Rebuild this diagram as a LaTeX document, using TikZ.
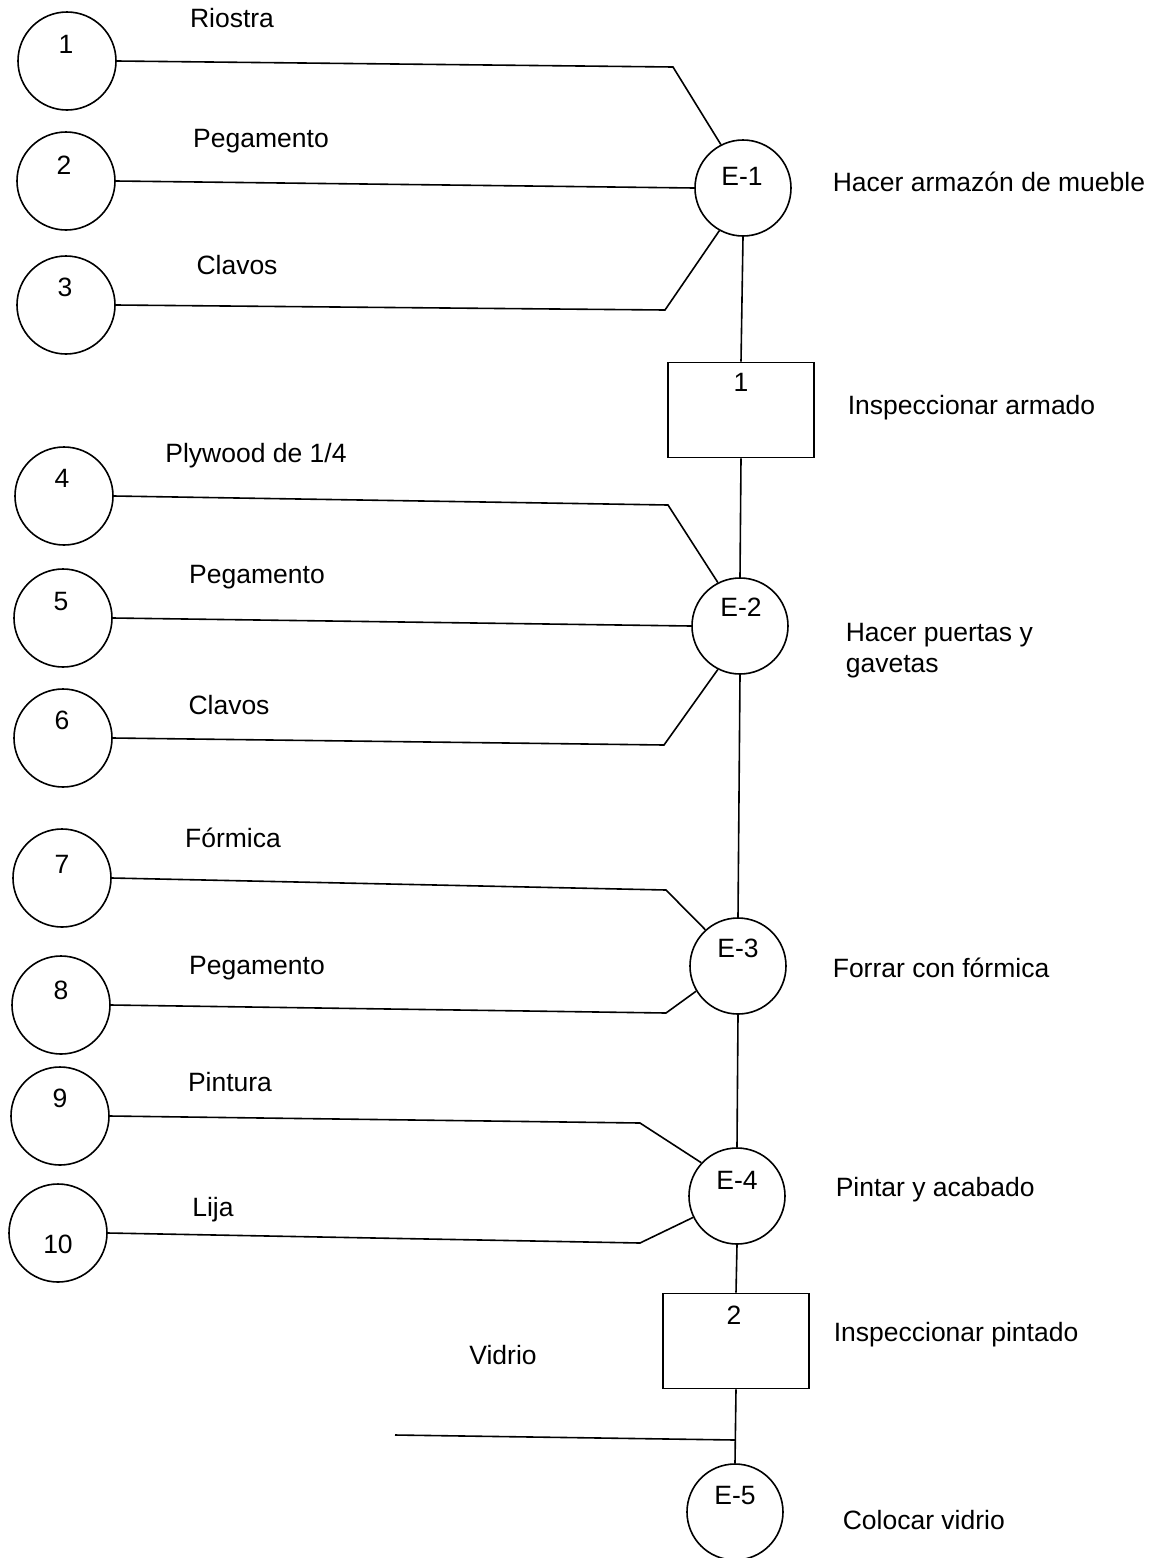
\documentclass[tikz,border=0pt]{standalone}
\usepackage{fontspec}
\setmainfont{Liberation Sans}
\begin{document}
\begin{tikzpicture}[x=1pt,y=-1pt,
  line width=1.6pt,
  every node/.style={font=\fontsize{26.5}{31}\selectfont, inner sep=0pt},
  mat/.style={circle, draw, minimum size=98pt},
  ops/.style={circle, draw, minimum size=96pt},
  insp/.style={rectangle, draw, minimum width=146pt, minimum height=95pt},
  num/.style={anchor=center},
  desc/.style={anchor=west, align=left}]
\useasboundingbox (0,0) rectangle (1167,1558);

% material circles
\node[mat] (c1) at (67,61) {};
\node[mat] (c2) at (66,181) {};
\node[mat] (c3) at (66,305) {};
\node[mat] (c4) at (64,496) {};
\node[mat] (c5) at (63,618) {};
\node[mat] (c6) at (63,738) {};
\node[mat] (c7) at (62,878) {};
\node[mat] (c8) at (61,1005) {};
\node[mat] (c9) at (60,1116) {};
\node[mat] (c10) at (58,1233) {};
\node[num] (n1) at (66,44) {1};
\node[num] (n2) at (64,165) {2};
\node[num] (n3) at (65,287) {3};
\node[num] (n4) at (62,478) {4};
\node[num] (n5) at (61,602) {5};
\node[num] (n6) at (62,720) {6};
\node[num] (n7) at (62,864) {7};
\node[num] (n8) at (61,990) {8};
\node[num] (n9) at (60,1098) {9};
\node[num] (n10) at (58,1244) {10};

% material names
\node (m1) at (232,18) {Riostra};
\node (m2) at (261,141) {Pegamento};
\node (m3) at (237,265) {Clavos};
\node (m4) at (256,456) {Plywood de 1/4};
\node (m5) at (257,577) {Pegamento};
\node (m6) at (229,705) {Clavos};
\node (m7) at (233,838) {Fórmica};
\node (m8) at (257,968) {Pegamento};
\node (m9) at (230,1082) {Pintura};
\node (m10) at (213,1210) {Lija};
\node (m11) at (503,1355) {Vidrio};

% assembly operations and inspections
\node[ops] (e1) at (743,188) {};
\node[num] (t1) at (742,176) {E-1};
\node[insp] (b1) at (741,410) {};
\node[num] (tb1) at (741,382) {1};
\node[ops] (e2) at (740,626) {};
\node[num] (t2) at (741,607) {E-2};
\node[ops] (e3) at (738,966) {};
\node[num] (t3) at (738,948) {E-3};
\node[ops] (e4) at (737,1196) {};
\node[num] (t4) at (737,1180) {E-4};
\node[insp] (b2) at (736,1341) {};
\node[num] (tb2) at (734,1315) {2};
\node[ops] (e5) at (735,1512) {};
\node[num] (t5) at (735,1495) {E-5};

% operation descriptions
\node[desc] (d1) at (832,182) {Hacer armazón de mueble};
\node[desc] (d2) at (847,408) {Inspeccionar armado};
\node[desc] (d3) at (845,651) {Hacer puertas y\\gavetas};
\node[desc] (d4) at (832,968) {Forrar con fórmica};
\node[desc] (d5) at (835,1190) {Pintar y acabado};
\node[desc] (d6) at (833,1335) {Inspeccionar pintado};
\node[desc] (d7) at (842,1520) {Colocar vidrio};

% bends of the feed lines
\coordinate (k1) at (673,67);
\coordinate (k3) at (665,310);
\coordinate (k4) at (668,505);
\coordinate (k6) at (664,745);
\coordinate (k7) at (666,890);
\coordinate (k8) at (666,1013);
\coordinate (k9) at (640,1123);
\coordinate (k10) at (640,1243);
\coordinate (vs) at (395,1435);
\coordinate (vj) at (735,1440);

% feed lines
\draw (c1.east) -- (k1) -- (e1.117);
\draw (c2.east) -- (e1.west);
\draw (c3.east) -- (k3) -- (e1.241);
\draw (c4.east) -- (k4) -- (e2.117);
\draw (c5.east) -- (e2.west);
\draw (c6.east) -- (k6) -- (e2.243);
\draw (c7.east) -- (k7) -- (e3.132);
\draw (c8.east) -- (k8) -- (e3.211);
\draw (c9.east) -- (k9) -- (e4.137);
\draw (c10.east) -- (k10) -- (e4.206);
\draw (vs) -- (vj);

% main flow
\draw (e1.south) -- (b1.north);
\draw (b1.south) -- (e2.north);
\draw (e2.south) -- (e3.north);
\draw (e3.south) -- (e4.north);
\draw (e4.south) -- (b2.north);
\draw (b2.south) -- (e5.north);
\end{tikzpicture}
\end{document}
